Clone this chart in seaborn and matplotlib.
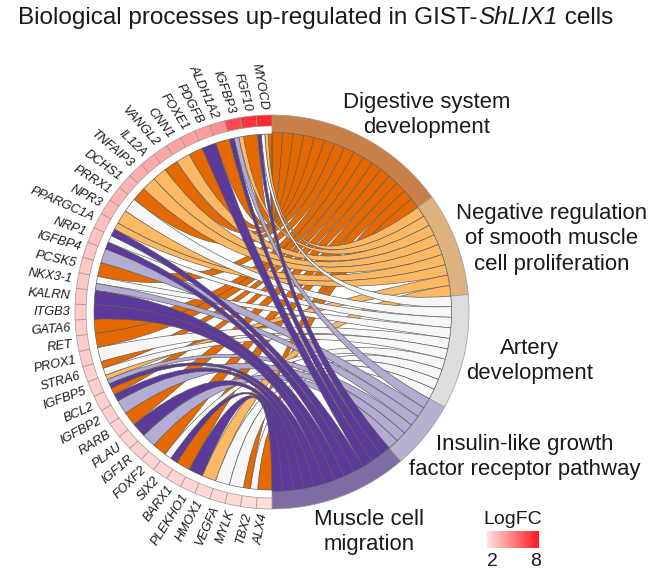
import numpy as np
import matplotlib
matplotlib.use("Agg")
import matplotlib.pyplot as plt
from matplotlib.path import Path
from matplotlib.patches import PathPatch
import seaborn as sns

# genes, bottom of the circle going clockwise up to the top
genes = ["ALX4", "TBX2", "MYLK", "VEGFA", "HMOX1", "PLEKHO1", "BARX1", "SIX2", "FOXF2", "IGF1R",
         "PLAU", "RARB", "IGFBP2", "BCL2", "IGFBP5", "STRA6", "PROX1", "RET", "GATA6", "ITGB3",
         "KALRN", "NKX3-1", "PCSK5", "IGFBP4", "NRP1", "PPARGC1A", "NPR3", "PRRX1", "DCHS1", "TNFAIP3",
         "IL12A", "VANGL2", "CNN1", "FOXE1", "PDGFB", "ALDH1A2", "IGFBP3", "FGF10", "MYOCD"]
logfc = [2.2, 2.2, 2.3, 2.3, 2.3, 2.4, 2.4, 2.4, 2.4, 2.5,
         2.5, 2.5, 2.6, 2.6, 2.6, 2.6, 2.7, 2.7, 2.7, 2.7,
         2.8, 2.8, 2.8, 2.9, 3.0, 3.1, 3.3, 3.4, 3.5, 3.6,
         3.7, 3.8, 3.9, 4.0, 4.1, 4.5, 6.6, 7.3, 7.6]

digestive = ["ALX4", "TBX2", "BARX1", "FOXF2", "RARB", "BCL2", "STRA6", "RET", "GATA6", "PCSK5",
             "DCHS1", "VANGL2", "FOXE1", "ALDH1A2", "FGF10", "MYOCD"]
negative = ["HMOX1", "IGFBP5", "PPARGC1A", "NPR3", "TNFAIP3", "IL12A", "CNN1", "IGFBP3", "MYOCD"]
artery = ["TBX2", "MYLK", "VEGFA", "SIX2", "PROX1", "STRA6", "NKX3-1", "NRP1", "PRRX1", "MYOCD"]
insulin = ["IGF1R", "IGFBP2", "IGFBP5", "NKX3-1", "IGFBP4", "IGFBP3"]
muscle = ["PLEKHO1", "SIX2", "PLAU", "BCL2", "IGFBP5", "ITGB3", "KALRN", "NRP1", "PPARGC1A", "PDGFB",
          "IGFBP3", "MYOCD"]

terms = [digestive, negative, artery, insulin, muscle]
term_labels = ["Digestive system\ndevelopment",
               "Negative regulation\nof smooth muscle\ncell proliferation",
               "Artery\ndevelopment",
               "Insulin-like growth\nfactor receptor pathway",
               "Muscle cell\nmigration"]
term_label_xy = [(427, 115), (552, 239), (530, 361), (525, 457), (369, 532)]
band_colors = ["#C97F48", "#DDB27F", "#DDDDDD", "#B6B1CE", "#7F6CA5"]

sns.set_theme(style="white")
plt.rcParams["font.family"] = ["Liberation Sans", "DejaVu Sans"]

ribbon_colors = sns.color_palette(["#E66900", "#FDB863", "#F7F7F7", "#B2ABD2", "#5B3A9A"])
fc_cmap = sns.blend_palette(["#FFE3DE", "#FF1A24"], as_cmap=True)
text_color = "#1A1A1A"

CX, CY = 272, 312
R_OUT = 197
R_GENE_IN = 186
R_RIBBON = 178
R_TERM_IN = 179.5


def pt(theta, r):
    t = np.radians(theta)
    return CX + r * np.sin(t), CY - r * np.cos(t)


def arc(t0, t1, r):
    return [pt(t, r) for t in np.linspace(t0, t1, 16)]


def ring_cell(ax, t0, t1, r0, r1, color, ec="#9A9A9A"):
    verts = arc(t0, t1, r1) + arc(t1, t0, r0)
    verts.append(verts[0])
    ax.add_patch(PathPatch(Path(verts, closed=True), fc=color, ec=ec, lw=0.5))


def ribbon(ax, g0, g1, t0, t1, color):
    verts = arc(g0, g1, R_RIBBON)
    codes = [Path.MOVETO] + [Path.LINETO] * (len(verts) - 1)
    verts += [(CX, CY), pt(t0, R_TERM_IN)]
    codes += [Path.CURVE3, Path.CURVE3]
    a = arc(t0, t1, R_TERM_IN)[1:]
    verts += a
    codes += [Path.LINETO] * len(a)
    verts += [(CX, CY), pt(g0, R_RIBBON)]
    codes += [Path.CURVE3, Path.CURVE3]
    ax.add_patch(PathPatch(Path(verts, codes), fc=color, ec="#5A5A5A", lw=0.45))


fig = plt.figure(figsize=(6.62, 5.74), dpi=100)
ax = fig.add_axes([0, 0, 1, 1])
ax.set_xlim(0, 662)
ax.set_ylim(574, 0)
ax.axis("off")

n_links = sum(len(t) for t in terms)
unit = 180 / n_links
gene_step = 180 / len(genes)

# term bands, slots run clockwise from the gene nearest the top
term_slots = {}
start = 0
for k, members in enumerate(terms):
    end = start + unit * len(members)
    ring_cell(ax, start, end, R_TERM_IN, R_OUT, band_colors[k])
    ordered = sorted(members, key=genes.index, reverse=True)
    for j, g in enumerate(ordered):
        term_slots[(k, g)] = (start + j * unit, start + (j + 1) * unit)
    x, y = term_label_xy[k]
    ax.text(x, y, term_labels[k], ha="center", va="center", fontsize=15.9,
            color=text_color, linespacing=1.27)
    start = end

# gene cells and labels, slots inside a gene run from last term to first
gene_slots = {}
norm = plt.Normalize(2, 8)
for i, g in enumerate(genes):
    g0 = 180 + i * gene_step
    g1 = g0 + gene_step
    ring_cell(ax, g0, g1, R_GENE_IN, R_OUT, fc_cmap(norm(logfc[i])))
    linked = [k for k in range(4, -1, -1) if g in terms[k]]
    w = gene_step / len(linked)
    for j, k in enumerate(linked):
        gene_slots[(k, g)] = (g0 + j * w, g0 + (j + 1) * w)
    mid = (g0 + g1) / 2
    x, y = pt(mid, R_OUT + 5)
    c, s = np.cos(np.radians(mid)), np.sin(np.radians(mid))
    rot = np.degrees(np.arctan2(-c, -s)) + 8 * c  # labels lean a little off radial
    ax.text(x, y, g, rotation=rot, rotation_mode="anchor", ha="right", va="center",
            fontsize=9.2, style="italic", color=text_color)

# orange at the bottom, purple on top
for k, members in enumerate(terms):
    for g in sorted(members, key=genes.index, reverse=True):
        g0, g1 = gene_slots[(k, g)]
        t0, t1 = term_slots[(k, g)]
        ribbon(ax, g0, g1, t0, t1, ribbon_colors[k])

# title in three pieces so the whole gene name is italic
renderer = fig.canvas.get_renderer()
tx = 18
for piece, sty in [("Biological processes up-regulated in GIST-", "normal"),
                   ("ShLIX1", "italic"), (" cells", "normal")]:
    t = ax.text(tx, 24, piece, ha="left", va="baseline", fontsize=17.5, style=sty, color=text_color)
    tx = ax.transData.inverted().transform(t.get_window_extent(renderer))[1, 0]
    if piece.endswith("-"):
        tx += 0.5

# legend
ax.text(513, 519, "LogFC", ha="center", va="center", fontsize=14, color=text_color)
ax.text(492, 561, "2", ha="center", va="center", fontsize=14, color=text_color)
ax.text(536, 561, "8", ha="center", va="center", fontsize=14, color=text_color)
ax.imshow(np.linspace(2, 8, 64).reshape(1, -1), cmap=fc_cmap, vmin=2, vmax=8,
          extent=(487, 539, 548, 531), aspect="auto")
ax.set_xlim(0, 662)
ax.set_ylim(574, 0)

fig.savefig("out.png", dpi=100)
